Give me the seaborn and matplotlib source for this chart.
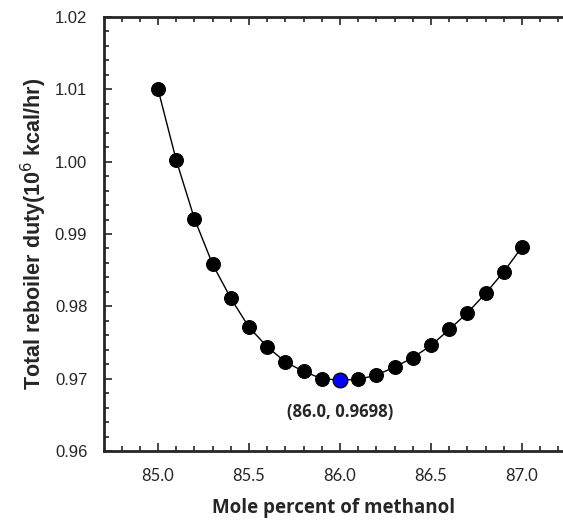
import numpy as np
import pandas as pd
import matplotlib
matplotlib.use("Agg")
import matplotlib.pyplot as plt
from matplotlib.ticker import MultipleLocator, FormatStrFormatter
import seaborn as sns

# data
mole_percent = [85.0, 85.1, 85.2, 85.3, 85.4, 85.5, 85.6, 85.7, 85.8, 85.9, 86.0,
                86.1, 86.2, 86.3, 86.4, 86.5, 86.6, 86.7, 86.8, 86.9, 87.0]
reboiler_duty = [1.0100, 1.0002, 0.9921, 0.9858, 0.9811, 0.9771, 0.9744, 0.9723, 0.9710,
                 0.9700, 0.9698, 0.9699, 0.9705, 0.9716, 0.9729, 0.9746, 0.9768, 0.9791,
                 0.9818, 0.9848, 0.9882]
opt_x = [86.0]
opt_y = [0.9698]
opt_label = "(86.0, 0.9698)"

df = pd.DataFrame({"x": mole_percent, "y": reboiler_duty})
opt_df = pd.DataFrame({"x": opt_x, "y": opt_y})

sns.set_style("ticks")
plt.rcParams["font.family"] = ["Lato", "DejaVu Sans"]

fig = plt.figure(figsize=(5.63, 5.24), dpi=100)
ax = fig.add_axes([104 / 563, 1 - 451 / 524, 1 - 104 / 563, (451 - 17) / 524])

sns.lineplot(data=df, x="x", y="y", ax=ax, color="black", linewidth=1.0,
             marker="o", markersize=10, markerfacecolor="black",
             markeredgecolor="black")
sns.scatterplot(data=opt_df, x="x", y="y", ax=ax, color="#0000ff", s=110,
                edgecolor="black", linewidth=1.0, zorder=5)

ax.annotate(opt_label, (opt_x[0], opt_y[0]), xytext=(0, -23),
            textcoords="offset points", ha="center", va="center",
            fontsize=12, fontweight="bold", family=["Open Sans", "DejaVu Sans"])

ax.set_xlim(84.703, 87.225)
ax.set_ylim(0.96, 1.02)
ax.xaxis.set_major_locator(MultipleLocator(0.5))
ax.xaxis.set_minor_locator(MultipleLocator(0.1))
ax.yaxis.set_major_locator(MultipleLocator(0.01))
ax.yaxis.set_minor_locator(MultipleLocator(0.002))
ax.xaxis.set_major_formatter(FormatStrFormatter("%.1f"))
ax.yaxis.set_major_formatter(FormatStrFormatter("%.2f"))

ax.tick_params(which="both", direction="in", top=True, right=False, width=1.2)
ax.tick_params(which="major", length=6, pad=12)
ax.tick_params(which="minor", length=3.5)
ax.tick_params(axis="x", labelsize=12)
ax.tick_params(axis="y", labelsize=12, labelfontfamily="Liberation Sans")
for side in ["left", "top", "bottom"]:
    ax.spines[side].set_linewidth(2)
ax.spines["right"].set_visible(False)

ax.set_xlabel("Mole percent of methanol", fontsize=13.5, fontweight="bold",
              labelpad=10, family=["Open Sans", "DejaVu Sans"])
ax.set_ylabel("Total reboiler duty(10$^6$ kcal/hr)", fontsize=15.5, fontweight="bold",
              labelpad=4, family=["Liberation Sans", "DejaVu Sans"])

fig.savefig("out.png", dpi=100)
